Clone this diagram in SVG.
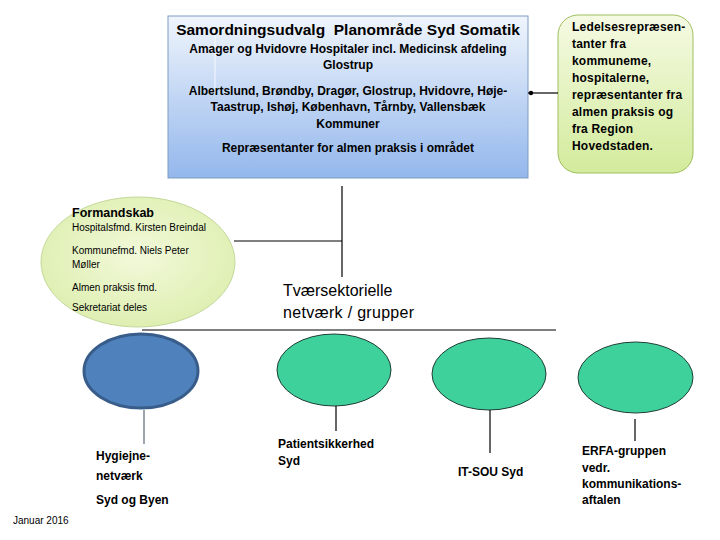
<svg xmlns="http://www.w3.org/2000/svg" width="720" height="540" viewBox="0 0 720 540">
<defs>
<linearGradient id="gBlue" x1="0" y1="0" x2="0" y2="1">
<stop offset="0" stop-color="#f0f5fc"/>
<stop offset="1" stop-color="#93b7ec"/>
</linearGradient>
<linearGradient id="gGreen" x1="0" y1="0" x2="0" y2="1">
<stop offset="0" stop-color="#f5fae3"/>
<stop offset="1" stop-color="#d3eb9c"/>
</linearGradient>
<radialGradient id="gEll" cx="0.5" cy="0.45" r="0.6">
<stop offset="0" stop-color="#f2f9da"/>
<stop offset="1" stop-color="#ddeeae"/>
</radialGradient>
</defs>
<style>
text{font-family:"Liberation Sans",Arial,sans-serif;fill:#000}
.b{font-weight:bold}
.c{text-anchor:middle}
.conn{stroke:#000;stroke-width:1.2;fill:none}
.teal{fill:#3fd19b;stroke:#1e3d35;stroke-width:1}
</style>
<rect width="720" height="540" fill="#fff"/>

<g id="samordningsudvalg">
<rect x="168" y="16" width="360" height="162" fill="url(#gBlue)" stroke="#7f9bbf" stroke-width="1"/>
<line x1="215" y1="28" x2="215" y2="93" stroke="#ffffff" stroke-width="1" opacity="0.8"/>
<text x="348" y="35" class="b c" font-size="15.5" xml:space="preserve" style="white-space:pre">Samordningsudvalg  Planområde Syd Somatik</text>
<g class="b c" font-size="12">
<text x="348" y="53">Amager og Hvidovre Hospitaler incl. Medicinsk afdeling</text>
<text x="348" y="69">Glostrup</text>
<text x="348" y="95">Albertslund, Brøndby, Dragør, Glostrup, Hvidovre, Høje-</text>
<text x="348" y="111">Taastrup, Ishøj, København, Tårnby, Vallensbæk</text>
<text x="348" y="128">Kommuner</text>
<text x="348" y="152">Repræsentanter for almen praksis i området</text>
</g>
</g>

<g id="ledelse">
<rect x="558" y="15" width="135" height="158" rx="20" ry="20" fill="url(#gGreen)" stroke="#9fbf60" stroke-width="1"/>
<g class="b" font-size="12" letter-spacing="0.2">
<text x="572" y="31">Ledelsesrepræsen-</text>
<text x="572" y="48">tanter fra</text>
<text x="572" y="65">kommuneme,</text>
<text x="572" y="82">hospitalerne,</text>
<text x="572" y="99">repræsentanter fra</text>
<text x="572" y="116">almen praksis og</text>
<text x="572" y="133">fra Region</text>
<text x="572" y="150">Hovedstaden.</text>
</g>
</g>

<g id="formandskab">
<ellipse cx="138" cy="262" rx="97" ry="65" fill="url(#gEll)" stroke="#c3d89a" stroke-width="1"/>
<text x="72" y="217" class="b" font-size="12.5">Formandskab</text>
<g font-size="10">
<text x="72" y="231">Hospitalsfmd. Kirsten Breindal</text>
<text x="72" y="254">Kommunefmd. Niels Peter</text>
<text x="72" y="268">Møller</text>
<text x="72" y="291">Almen praksis fmd.</text>
<text x="72" y="311">Sekretariat deles</text>
</g>
</g>

<g id="tvaersektorielle">
<text x="283" y="296" font-size="16">Tværsektorielle</text>
<text x="283" y="318" font-size="16" letter-spacing="0.3">netværk / grupper</text>
</g>

<g id="hygiejne">
<ellipse cx="141" cy="371" rx="57" ry="37" fill="#4f81bd" stroke="#385d8a" stroke-width="3"/>
<g class="b" font-size="12">
<text x="96" y="460">Hygiejne-</text>
<text x="96" y="480">netværk</text>
<text x="96" y="504">Syd og Byen</text>
</g>
</g>

<g id="patientsikkerhed">
<ellipse cx="334" cy="370" rx="57" ry="36" class="teal"/>
<g class="b" font-size="12">
<text x="278" y="448">Patientsikkerhed</text>
<text x="278" y="465">Syd</text>
</g>
</g>

<g id="itsou">
<ellipse cx="489" cy="374" rx="57" ry="36" class="teal"/>
<text x="458" y="476" class="b" font-size="12">IT-SOU Syd</text>
</g>

<g id="erfa">
<ellipse cx="635.5" cy="377.5" rx="57.5" ry="35.5" class="teal"/>
<g class="b" font-size="12">
<text x="582" y="455">ERFA-gruppen</text>
<text x="582" y="472">vedr.</text>
<text x="582" y="488">kommunikations-</text>
<text x="582" y="504">aftalen</text>
</g>
</g>

<g id="connectors">
<line x1="528" y1="93" x2="558" y2="93" class="conn" stroke-width="1.5"/>
<circle cx="531" cy="93" r="2.2" fill="#000"/>
<line x1="234" y1="241" x2="342" y2="241" class="conn"/>
<line x1="342" y1="186" x2="342" y2="277" class="conn"/>
<line x1="142" y1="330" x2="556" y2="330" class="conn"/>
<line x1="144" y1="410" x2="144" y2="444" stroke="#5a6a7a" stroke-width="1.2"/>
<line x1="336" y1="406" x2="336" y2="431" class="conn"/>
<line x1="490" y1="410" x2="490" y2="453" class="conn"/>
<line x1="635" y1="419" x2="635" y2="441" class="conn"/>
</g>

<text x="13" y="524" font-size="10">Januar 2016</text>
</svg>
